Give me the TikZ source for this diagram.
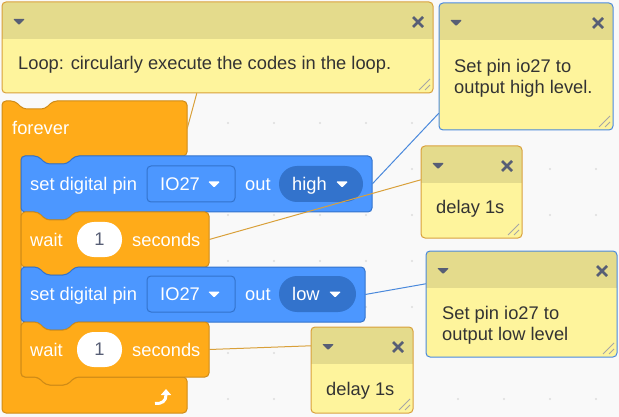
\documentclass[tikz,border=0pt]{standalone}
\usepackage{fontspec}
\setmainfont{Liberation Sans}
\usetikzlibrary{positioning,calc,fit,arrows.meta}

\definecolor{canvas}{HTML}{F9F9F9}
\definecolor{griddot}{HTML}{DDDDDD}
\definecolor{looks}{HTML}{4C97FF}
\definecolor{looksedge}{HTML}{3373CC}
\definecolor{control}{HTML}{FFAB19}
\definecolor{controledge}{HTML}{CF8B17}
\definecolor{notebody}{HTML}{FEF49C}
\definecolor{notehead}{HTML}{E4DB8C}
\definecolor{noteorange}{HTML}{D9A03A}
\definecolor{noteblue}{HTML}{4A89DC}
\definecolor{noteicon}{HTML}{575E75}
\definecolor{notetext}{HTML}{333333}

\newcommand{\scratchfont}{\fontsize{18.3}{21}\selectfont}

\tikzset{
  caret/.pic={\path[pic actions, rounded corners=1pt] (-6,-3) -- (6,-3) -- (0,3) -- cycle;},
  controlblock/.style={fill=control, draw=controledge, line width=1pt, rounded corners=4pt},
  looksblock/.style={fill=looks, draw=looksedge, line width=1pt, rounded corners=4pt},
  blocktext/.style={text=white, font=\scratchfont, inner sep=0pt, anchor=base west},
  notetxt/.style={text=notetext, font=\scratchfont, inner sep=0pt, anchor=base west, align=left},
  menufield/.style={fill=looks, draw=looksedge, line width=1pt, rounded corners=4pt,
    minimum width=88pt, minimum height=36pt, inner sep=0pt},
  pillfield/.style={fill=looksedge, rounded corners=18pt, minimum height=36pt, inner sep=0pt},
  numfield/.style={fill=white, rounded corners=17pt, minimum width=45pt, minimum height=35pt,
    inner sep=0pt, text=noteicon, font=\scratchfont},
  hitbox/.style={inner sep=0pt},
  link/.style={line width=1pt}
}

% sticky comment: name, left, top, right, bottom, edge colour
\newcommand{\stickynote}[6]{%
  \begin{scope}
    \clip[rounded corners=4pt] (#2,#3) rectangle (#4,#5);
    \fill[notebody] (#2,#3) rectangle (#4,#5);
    \fill[notehead] (#2,#3) rectangle (#4,#3+37);
  \end{scope}
  \draw[#6, line width=1pt, rounded corners=4pt] (#2,#3) rectangle (#4,#5);
  \node[hitbox, fit={(#2,#3) (#4,#5)}] (#1) {};
  \pic[fill=noteicon] at (#2+17,#3+20) {caret};
  \draw[noteicon, line width=2.8pt] (#4-20,#3+15) -- (#4-10,#3+25) (#4-20,#3+25) -- (#4-10,#3+15);
  \draw[gray!70, line width=0.8pt] (#4-3,#5-14) -- (#4-14,#5-3) (#4-3,#5-8) -- (#4-8,#5-3);
}

\begin{document}
\begin{tikzpicture}[x=1pt, y=-1pt]
\fill[canvas] (0,0) rectangle (619,417);
\useasboundingbox (0,0) rectangle (619,417);

% workspace grid
\foreach \i in {0,...,12}
  \foreach \j in {0,...,8}
    \fill[griddot] (44+46*\i, 31+46*\j) circle (1.1);

% forever loop
\draw[controlblock] (2,101) -- (15,101) -- (23,109) -- (45,109) -- (53,101) -- (187,101)
  -- (187,156) -- (75,156) -- (67,164) -- (46,164) -- (38,156) -- (21,156)
  -- (21,377) -- (38,377) -- (46,385) -- (67,385) -- (75,377) -- (187,377)
  -- (187,413) -- (2,413) -- cycle;
\node[hitbox, fit={(2,101) (187,156)}] (forever) {};
\node[blocktext] at (12,134.5) {forever};
\draw[white, line width=3pt, -{Triangle[width=10pt,length=6pt]}]
  (155,403.5) .. controls (162,404) and (166,401) .. (166,395) -- (166,389);

% set pin high
\draw[looksblock] (21,156) -- (38,156) -- (46,164) -- (67,164) -- (75,156) -- (372,156)
  -- (372,212) -- (75,212) -- (67,220) -- (46,220) -- (38,212) -- (21,212) -- cycle;
\node[hitbox, fit={(21,156) (372,212)}] (sethigh) {};
\node[blocktext] at (30,190.5) {set digital pin};
\node[menufield] (pinhigh) at (191,184) {};
\node[blocktext] at (160,190.5) {IO27};
\pic[fill=white] at (214,184.5) {caret};
\node[blocktext] at (245,190.5) {out};
\node[pillfield, minimum width=84pt] (levelhigh) at (321,184) {};
\node[blocktext] at (292,190.5) {high};
\pic[fill=white] at (342,184.5) {caret};

% wait 1 s
\draw[controlblock] (21,212) -- (38,212) -- (46,220) -- (67,220) -- (75,212) -- (209,212)
  -- (209,267) -- (75,267) -- (67,275) -- (46,275) -- (38,267) -- (21,267) -- cycle;
\node[hitbox, fit={(21,212) (209,267)}] (wait1) {};
\node[blocktext] at (30,246) {wait};
\node[numfield] (secs1) at (99.5,239.5) {1};
\node[blocktext] at (132,246) {seconds};

% set pin low
\draw[looksblock] (21,267) -- (38,267) -- (46,275) -- (67,275) -- (75,267) -- (365,267)
  -- (365,322) -- (75,322) -- (67,330) -- (46,330) -- (38,322) -- (21,322) -- cycle;
\node[hitbox, fit={(21,267) (365,322)}] (setlow) {};
\node[blocktext] at (30,300.5) {set digital pin};
\node[menufield] (pinlow) at (191,294) {};
\node[blocktext] at (160,300.5) {IO27};
\pic[fill=white] at (214,294.5) {caret};
\node[blocktext] at (245,300.5) {out};
\node[pillfield, minimum width=77pt] (levellow) at (317.5,294) {};
\node[blocktext] at (292,300.5) {low};
\pic[fill=white] at (335,294.5) {caret};

% wait 1 s
\draw[controlblock] (21,322) -- (38,322) -- (46,330) -- (67,330) -- (75,322) -- (209,322)
  -- (209,377) -- (75,377) -- (67,385) -- (46,385) -- (38,377) -- (21,377) -- cycle;
\node[hitbox, fit={(21,322) (209,377)}] (wait2) {};
\node[blocktext] at (30,356) {wait};
\node[numfield] (secs2) at (99.5,349.5) {1};
\node[blocktext] at (132,356) {seconds};

% comments
\stickynote{loopnote}{2}{2}{433}{93}{noteorange}
\node[notetxt] at (18,70) {Loop: circularly execute the codes in the loop.};
\stickynote{highnote}{439}{3}{613}{130}{noteblue}
\node[notetxt] at (454,94) {Set pin io27 to\\output high level.};
\stickynote{delay1}{421}{146}{522}{238}{noteorange}
\node[notetxt] at (436,214) {delay 1s};
\stickynote{lownote}{426}{251}{617}{357}{noteblue}
\node[notetxt] at (442,340) {Set pin io27 to\\output low level};
\stickynote{delay2}{311}{327}{413}{413}{noteorange}
\node[notetxt] at (326,395) {delay 1s};

% comment links
\draw[link, noteorange] (forever.east) -- ($(loopnote.south west)+(195,0)$);
\draw[link, noteblue] (sethigh.east) -- ($(highnote.south west)+(0,-17)$);
\draw[link, noteorange] (wait1.east) -- ($(delay1.north west)+(0,34)$);
\draw[link, noteblue] (setlow.east) -- ($(lownote.north west)+(0,33)$);
\draw[link, noteorange] (wait2.east) -- ($(delay2.north west)+(0,19)$);
\end{tikzpicture}
\end{document}
